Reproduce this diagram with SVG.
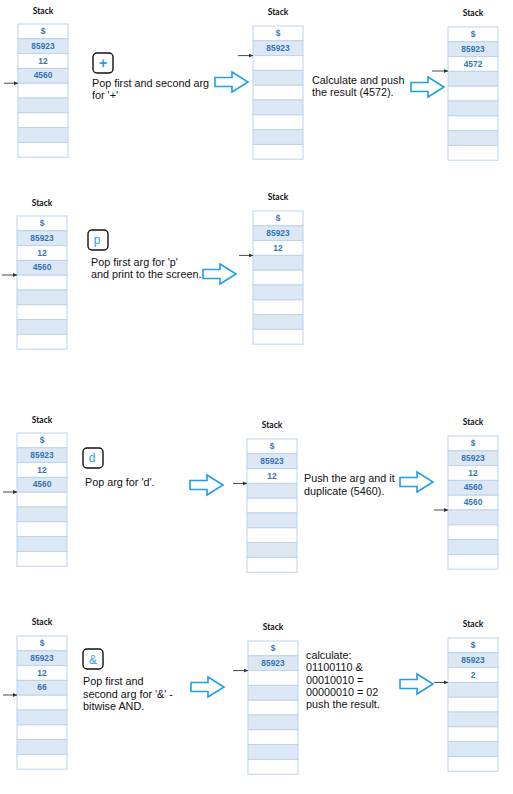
<svg xmlns="http://www.w3.org/2000/svg" xmlns:xlink="http://www.w3.org/1999/xlink" width="513" height="794" viewBox="0 0 513 794">
<style>
.title{font-family:Lato,"Liberation Sans",sans-serif;font-weight:bold;font-size:8.5px;fill:#111;text-anchor:middle}
.val{font-family:"Liberation Sans",Arial,sans-serif;font-weight:bold;font-size:8.4px;fill:#3573b9;text-anchor:middle}
.cw{fill:#ffffff;stroke:#bcd3ee;stroke-width:1}
.cb{fill:#dde8f5;stroke:#bcd3ee;stroke-width:1}
.txt{font-family:"Liberation Sans",Arial,sans-serif;font-size:10.8px;fill:#111}
.key{fill:#fff;stroke:#111;stroke-width:1.4}
.keyt{font-family:"Liberation Sans",Arial,sans-serif;font-size:12px;fill:#1fa0e6;text-anchor:middle}
.ptr{stroke:#333;stroke-width:0.9;fill:none}
.barrow{fill:#fff;stroke:#1ea0e6;stroke-width:1.6;stroke-linejoin:miter}
</style>
<defs>
<marker id="ah" viewBox="0 0 6 6" refX="6" refY="3" markerWidth="4" markerHeight="4" orient="auto" markerUnits="userSpaceOnUse">
<path d="M0,0 L6,3 L0,6 Z" fill="#333"/>
</marker>
<path id="blk" d="M0,5.5 H17 V0 L33,10 L17,20 V14.5 H0 Z"/>
<g id="cells">
<rect class="cw" x="0" y="0" width="50" height="14.8"/>
<rect class="cb" x="0" y="14.8" width="50" height="14.8"/>
<rect class="cw" x="0" y="29.6" width="50" height="14.8"/>
<rect class="cb" x="0" y="44.4" width="50" height="14.8"/>
<rect class="cw" x="0" y="59.2" width="50" height="14.8"/>
<rect class="cb" x="0" y="74" width="50" height="14.8"/>
<rect class="cw" x="0" y="88.8" width="50" height="14.8"/>
<rect class="cb" x="0" y="103.6" width="50" height="14.8"/>
<rect class="cw" x="0" y="118.4" width="50" height="14.8"/>
</g>
</defs>

<!-- Section 1 -->
<g id="stack1" transform="translate(18,24)">
<text class="title" x="25" y="-10">Stack</text>
<use xlink:href="#cells"/>
<text class="val" x="25" y="10">$</text>
<text class="val" x="25" y="24.8">85923</text>
<text class="val" x="25" y="39.6">12</text>
<text class="val" x="25" y="54.4">4560</text>
</g>
<g id="key1"><rect class="key" x="93" y="53" width="20" height="20" rx="4"/><text class="keyt" x="103" y="67.5" style="font-size:14px;font-weight:bold">+</text></g>
<g id="text1"><text class="txt" x="92" y="87">Pop first and second arg</text><text class="txt" x="92" y="98.5">for '+'</text></g>
<g id="stack2" transform="translate(253,26)">
<text class="title" x="25" y="-11">Stack</text>
<use xlink:href="#cells"/>
<text class="val" x="25" y="10">$</text>
<text class="val" x="25" y="24.8">85923</text>
</g>
<g id="text2"><text class="txt" x="312" y="84">Calculate and push</text><text class="txt" x="312" y="96">the result (4572).</text></g>
<g id="stack3" transform="translate(448,27)">
<text class="title" x="25" y="-11">Stack</text>
<use xlink:href="#cells"/>
<text class="val" x="25" y="10">$</text>
<text class="val" x="25" y="24.8">85923</text>
<text class="val" x="25" y="39.6">4572</text>
</g>

<!-- Section 2 -->
<g id="stack4" transform="translate(17,216)">
<text class="title" x="25" y="-10">Stack</text>
<use xlink:href="#cells"/>
<text class="val" x="25" y="10">$</text>
<text class="val" x="25" y="24.8">85923</text>
<text class="val" x="25" y="39.6">12</text>
<text class="val" x="25" y="54.4">4560</text>
</g>
<g id="key2"><rect class="key" x="88" y="230" width="20" height="20" rx="4"/><text class="keyt" x="97" y="244">p</text></g>
<g id="text3"><text class="txt" x="91" y="266">Pop first arg for 'p'</text><text class="txt" x="91" y="278">and print to the screen.</text></g>
<g id="stack5" transform="translate(253,211)">
<text class="title" x="25" y="-11">Stack</text>
<use xlink:href="#cells"/>
<text class="val" x="25" y="10">$</text>
<text class="val" x="25" y="24.8">85923</text>
<text class="val" x="25" y="39.6">12</text>
</g>

<!-- Section 3 -->
<g id="stack6" transform="translate(17,433)">
<text class="title" x="25" y="-10">Stack</text>
<use xlink:href="#cells"/>
<text class="val" x="25" y="10">$</text>
<text class="val" x="25" y="24.8">85923</text>
<text class="val" x="25" y="39.6">12</text>
<text class="val" x="25" y="54.4">4560</text>
</g>
<g id="key3"><rect class="key" x="83" y="448" width="20" height="20" rx="4"/><text class="keyt" x="92" y="462">d</text></g>
<g id="text4"><text class="txt" x="85" y="486">Pop arg for 'd'.</text></g>
<g id="stack7" transform="translate(247,439)">
<text class="title" x="25" y="-11">Stack</text>
<use xlink:href="#cells"/>
<text class="val" x="25" y="10">$</text>
<text class="val" x="25" y="24.8">85923</text>
<text class="val" x="25" y="39.6">12</text>
</g>
<g id="text5"><text class="txt" x="304" y="482">Push the arg and it</text><text class="txt" x="304" y="495">duplicate (5460).</text></g>
<g id="stack8" transform="translate(448,436)">
<text class="title" x="25" y="-11">Stack</text>
<use xlink:href="#cells"/>
<text class="val" x="25" y="10">$</text>
<text class="val" x="25" y="24.8">85923</text>
<text class="val" x="25" y="39.6">12</text>
<text class="val" x="25" y="54.4">4560</text>
<text class="val" x="25" y="69.2">4560</text>
</g>

<!-- Section 4 -->
<g id="stack9" transform="translate(17,636)">
<text class="title" x="25" y="-11">Stack</text>
<use xlink:href="#cells"/>
<text class="val" x="25" y="10">$</text>
<text class="val" x="25" y="24.8">85923</text>
<text class="val" x="25" y="39.6">12</text>
<text class="val" x="25" y="54.4">66</text>
</g>
<g id="key4"><rect class="key" x="83" y="649" width="20" height="20" rx="4"/><text class="keyt" x="93" y="663.5">&amp;</text></g>
<g id="text6"><text class="txt" x="83" y="685">Pop first and</text><text class="txt" x="83" y="697.5">second arg for '&amp;' -</text><text class="txt" x="83" y="710">bitwise AND.</text></g>
<g id="stack10" transform="translate(248,641)">
<text class="title" x="25" y="-11">Stack</text>
<use xlink:href="#cells"/>
<text class="val" x="25" y="10">$</text>
<text class="val" x="25" y="24.8">85923</text>
</g>
<g id="text7"><text class="txt" x="306" y="659">calculate:</text><text class="txt" x="306" y="671.3">01100110 &amp;</text><text class="txt" x="306" y="683.6">00010010 =</text><text class="txt" x="306" y="695.9">00000010 = 02</text><text class="txt" x="306" y="708.2">push the result.</text></g>
<g id="stack11" transform="translate(448,638)">
<text class="title" x="25" y="-11">Stack</text>
<use xlink:href="#cells"/>
<text class="val" x="25" y="10">$</text>
<text class="val" x="25" y="24.8">85923</text>
<text class="val" x="25" y="39.6">2</text>
</g>

<g id="connectors">
<use xlink:href="#blk" class="barrow" x="215" y="72"/>
<use xlink:href="#blk" class="barrow" x="411" y="77"/>
<use xlink:href="#blk" class="barrow" x="203" y="264"/>
<use xlink:href="#blk" class="barrow" x="190" y="475"/>
<use xlink:href="#blk" class="barrow" x="400" y="472"/>
<use xlink:href="#blk" class="barrow" x="191" y="677"/>
<use xlink:href="#blk" class="barrow" x="400" y="674"/>
<line class="ptr" x1="4" y1="83.2" x2="18" y2="83.2" marker-end="url(#ah)"/>
<line class="ptr" x1="238" y1="55.6" x2="253" y2="55.6" marker-end="url(#ah)"/>
<line class="ptr" x1="432" y1="71" x2="448" y2="71" marker-end="url(#ah)"/>
<line class="ptr" x1="2" y1="275" x2="17" y2="275" marker-end="url(#ah)"/>
<line class="ptr" x1="239" y1="255.4" x2="253" y2="255.4" marker-end="url(#ah)"/>
<line class="ptr" x1="3" y1="492" x2="17" y2="492" marker-end="url(#ah)"/>
<line class="ptr" x1="233" y1="483.4" x2="247" y2="483.4" marker-end="url(#ah)"/>
<line class="ptr" x1="434" y1="510" x2="448" y2="510" marker-end="url(#ah)"/>
<line class="ptr" x1="3" y1="695" x2="17" y2="695" marker-end="url(#ah)"/>
<line class="ptr" x1="233" y1="670.6" x2="248" y2="670.6" marker-end="url(#ah)"/>
<line class="ptr" x1="434" y1="682.4" x2="448" y2="682.4" marker-end="url(#ah)"/>
</g>
</svg>
